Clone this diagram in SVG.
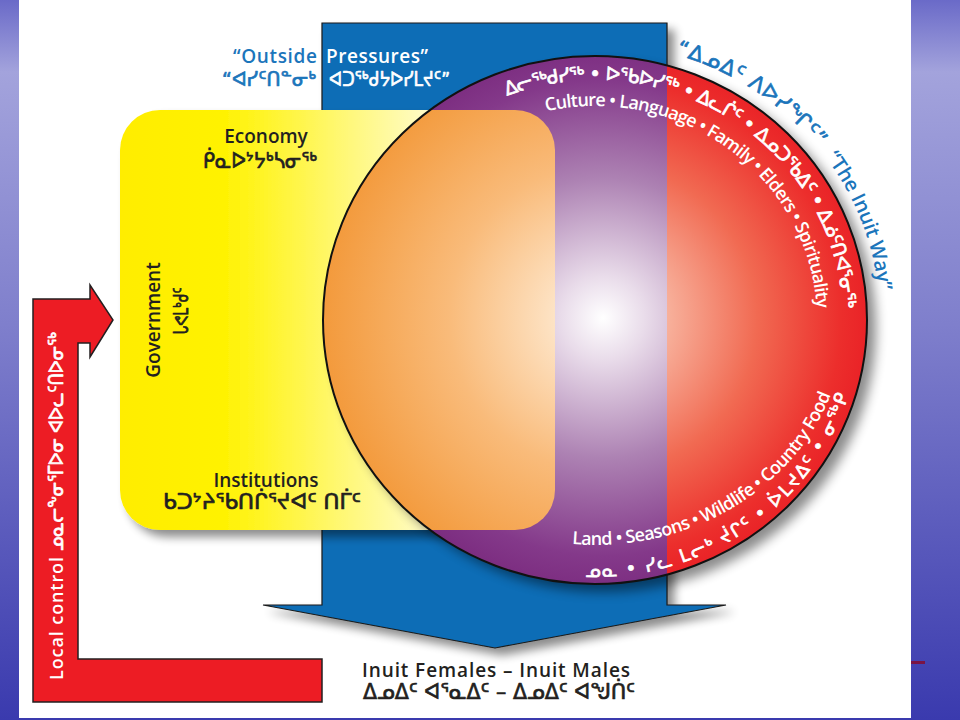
<svg xmlns="http://www.w3.org/2000/svg" width="960" height="720" viewBox="0 0 960 720">
<style>
.lat{font-family:"Open Sans","DejaVu Sans",sans-serif;font-weight:600}
.syl{font-family:"DejaVu Sans",sans-serif;font-weight:normal;stroke-width:0.7px;stroke-linejoin:round}
.dark{fill:#231f20;stroke:#231f20}
.wht{fill:#ffffff;stroke:#ffffff}
.blu{fill:#1b75bb;stroke:#1b75bb}
.lat.dark,.lat.wht,.lat.blu{stroke:none}
</style>
<defs>
<linearGradient id="bg" x1="0" y1="0" x2="0" y2="1">
<stop offset="0" stop-color="#6a6ac8"/><stop offset="0.1" stop-color="#a3a3dc"/><stop offset="0.45" stop-color="#7f7fcc"/><stop offset="1" stop-color="#3a3aae"/>
</linearGradient>
<linearGradient id="gYel" gradientUnits="userSpaceOnUse" x1="120" y1="0" x2="460" y2="0">
<stop offset="0" stop-color="#ffed00"/><stop offset="0.3" stop-color="#fff200"/><stop offset="1" stop-color="#fffde6"/>
</linearGradient>
<radialGradient id="gRed" gradientUnits="userSpaceOnUse" cx="603" cy="318" r="280">
<stop offset="0" stop-color="#fde8e0"/><stop offset="0.2" stop-color="#f8b7a2"/><stop offset="0.55" stop-color="#f16a52"/><stop offset="0.85" stop-color="#ec2e2c"/><stop offset="1" stop-color="#e81c24"/>
</radialGradient>
<radialGradient id="gPur" gradientUnits="userSpaceOnUse" cx="603" cy="318" r="280">
<stop offset="0" stop-color="#ffffff"/><stop offset="0.15" stop-color="#e9dcea"/><stop offset="0.5" stop-color="#ad82b3"/><stop offset="0.85" stop-color="#84398a"/><stop offset="1" stop-color="#7a2a7e"/>
</radialGradient>
<radialGradient id="gOra" gradientUnits="userSpaceOnUse" cx="603" cy="318" r="280">
<stop offset="0" stop-color="#fff8ee"/><stop offset="0.2" stop-color="#fde0bf"/><stop offset="0.55" stop-color="#f9bb7a"/><stop offset="1" stop-color="#f39a3c"/>
</radialGradient>
<filter id="shadow" x="-20%" y="-20%" width="140%" height="140%">
<feGaussianBlur in="SourceAlpha" stdDeviation="5"/><feOffset dx="7" dy="7"/>
<feComponentTransfer><feFuncA type="linear" slope="0.45"/></feComponentTransfer>
<feMerge><feMergeNode/><feMergeNode in="SourceGraphic"/></feMerge>
</filter>
<filter id="blur" x="-20%" y="-20%" width="140%" height="140%"><feGaussianBlur stdDeviation="6"/></filter>
<clipPath id="clipBar"><rect x="322" y="0" width="345" height="720"/></clipPath>
<clipPath id="clipBox"><rect x="120" y="110" width="435" height="420" rx="40"/></clipPath>
<path id="pSylTop" d="M 347 320 A 248 240 0 0 1 843 320 A 248 240 0 0 1 595 560"/>
<path id="pLatTop" d="M 373 320 A 222 214 0 0 1 817 320 A 222 214 0 0 1 595 534"/>
<path id="pOuter" d="M 310 320 A 285 277 0 0 1 880 320 A 285 277 0 0 1 595 597"/>
<path id="pLatBot" d="M 345 320 A 250 225 0 0 0 845 320 A 250 225 0 0 0 595 95"/>
<path id="pSylBot" d="M 330 320 A 265 257 0 0 0 860 320 A 265 257 0 0 0 595 63"/>
</defs>

<rect width="960" height="720" fill="url(#bg)"/>
<rect x="19" y="0" width="892" height="718" fill="#ffffff"/>
<rect x="911" y="661" width="14" height="3" fill="#7a1445"/>

<g id="connectors">
<polygon id="local-control-arrow" points="322,659 78,659 78,343 90,343 90,357 113,320 90,285 90,299 33,299 33,702 322,702" fill="#ed1c24" stroke="#231f20" stroke-width="1.5"/>
<text class="lat wht" font-size="18" transform="translate(63,680) rotate(-90)" textLength="123">Local control</text>
<text class="syl wht" font-size="19" transform="translate(63,551) rotate(-90)" textLength="219" lengthAdjust="spacingAndGlyphs">ᓄᓇᓕᖕᓂᕐᒥᐅᓂ ᐊᐅᓚᑦᑎᐅᓂᖅ</text>
</g>

<g id="outside-pressures">
<polygon points="322,23 667,23 667,605 726,605 495,648 263,605 322,605" fill="#0c6db6" stroke="#1a1a1a" stroke-width="1.2" filter="url(#shadow)"/>
<text class="lat blu" x="317" y="63" font-size="19" text-anchor="end" textLength="84">“Outside</text>
<text class="lat wht" x="326" y="63" font-size="19" textLength="102">Pressures”</text>
<text class="syl blu" x="316" y="86" font-size="20" text-anchor="end" textLength="94" lengthAdjust="spacingAndGlyphs">“ᐊᓯᑦᑎᓐᓂᒃ</text>
<text class="syl wht" x="329" y="86" font-size="20" textLength="121" lengthAdjust="spacingAndGlyphs">ᐊᑐᖅᑯᔭᐅᓯᒪᔪᑦ”</text>
</g>

<g id="institutions-box">
<rect x="120" y="110" width="435" height="420" rx="40" fill="url(#gYel)" filter="url(#shadow)"/>
<text class="lat dark" x="266" y="143" font-size="19" text-anchor="middle">Economy</text>
<text class="syl dark" x="260" y="168" font-size="21" text-anchor="middle" textLength="114" lengthAdjust="spacingAndGlyphs">ᑮᓇᐅᔾᔭᒃᓴᓂᖅ</text>
<text class="lat dark" font-size="19" text-anchor="middle" transform="translate(160,320) rotate(-90)">Government</text>
<text class="syl dark" font-size="20" text-anchor="middle" transform="translate(188,311) rotate(-90)" textLength="47" lengthAdjust="spacingAndGlyphs">ᒐᕙᒪᒃᑯᑦ</text>
<text class="lat dark" x="266" y="487" font-size="19" text-anchor="middle">Institutions</text>
<text class="syl dark" x="262" y="509" font-size="21" text-anchor="middle" textLength="198" lengthAdjust="spacingAndGlyphs">ᑲᑐᔾᔨᖃᑎᒌᕐᔪᐊᑦ ᑎᒦᑦ</text>
</g>

<g id="inuit-way-circle">
<ellipse cx="604" cy="328" rx="272" ry="264" fill="#000" opacity="0.45" filter="url(#blur)"/>
<ellipse cx="595" cy="320" rx="272" ry="264" fill="url(#gRed)"/>
<ellipse cx="595" cy="320" rx="272" ry="264" fill="url(#gPur)" clip-path="url(#clipBar)"/>
<ellipse cx="595" cy="320" rx="272" ry="264" fill="url(#gOra)" clip-path="url(#clipBox)"/>
<ellipse cx="595" cy="320" rx="272" ry="264" fill="none" stroke="#111" stroke-width="2"/>
<text class="syl wht" font-size="19"><textPath href="#pSylTop" startOffset="293" textLength="462" lengthAdjust="spacing">ᐃᓕᖅᑯᓯᖅ • ᐅᖃᐅᓯᖅ • ᐃᓚᒌᑦ • ᐃᓄᑐᖃᐃᑦ • ᐃᓅᑦᑎᐊᕐᓂᖅ</textPath></text>
<text class="lat wht" font-size="18"><textPath href="#pLatTop" startOffset="293" textLength="380" lengthAdjust="spacing">Culture • Language • Family • Elders • Spirituality</textPath></text>
<text class="lat wht" font-size="18"><textPath href="#pLatBot" startOffset="350" textLength="320" lengthAdjust="spacing">Land • Seasons • Wildlife • Country Food</textPath></text>
<text class="syl wht" font-size="18"><textPath href="#pSylBot" startOffset="400" textLength="343" lengthAdjust="spacing">ᓄᓇ  •  ᓯᓚ ᒪᓕᒃ ᔫᒋᑦ  •  ᐆᒪᔪᐃᑦ  •  ᓂᖅᑭ</textPath></text>
<text class="syl blu" font-size="21"><textPath href="#pOuter" startOffset="523" textLength="172" lengthAdjust="spacing">“ᐃᓄᐃᑦ ᐱᐅᓯᖏᑦ”</textPath></text>
<text class="lat blu" font-size="20"><textPath href="#pOuter" startOffset="708" textLength="145" lengthAdjust="spacing">“The Inuit Way”</textPath></text>
</g>

<g id="outcome-label">
<text class="lat dark" x="496" y="677" font-size="19" text-anchor="middle" textLength="268">Inuit Females – Inuit Males</text>
<text class="syl dark" x="499" y="699" font-size="21" text-anchor="middle" textLength="272" lengthAdjust="spacingAndGlyphs">ᐃᓄᐃᑦ ᐊᕐᓇᐃᑦ – ᐃᓄᐃᑦ ᐊᖑᑏᑦ</text>
</g>
</svg>
